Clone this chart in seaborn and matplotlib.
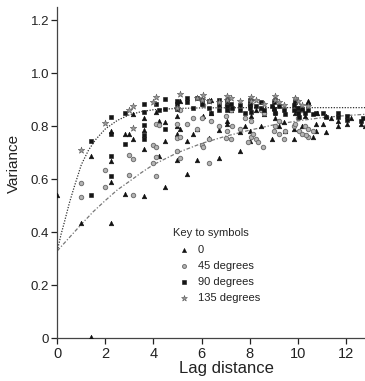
import matplotlib
matplotlib.use("Agg")
import matplotlib.pyplot as plt
import seaborn as sns
import pandas as pd

# ---- data ----
tri_x = [0.0, 1.0, 1.41, 1.41, 2.24, 2.24, 2.24, 2.24, 2.83, 2.83, 3.0, 3.16, 3.16, 3.61, 3.61, 3.61, 3.61,
         4.12, 4.24, 4.24, 4.47, 4.47, 4.47, 5.0, 5.0, 5.0, 5.0, 5.1, 5.39, 5.39, 5.66, 5.83, 5.83, 6.08,
         6.32, 6.4, 6.71, 6.71, 7.07, 7.07, 7.21, 7.62, 7.62, 7.81, 8.0, 8.0, 8.06, 8.25, 8.49, 8.6, 8.94,
         9.0, 9.06, 9.22, 9.43, 9.49, 9.85, 9.85, 9.9, 10.0, 10.2, 10.3, 10.44, 10.63, 10.77, 10.77, 10.82,
         11.05, 11.18, 11.18, 11.4, 11.66, 11.66, 12.04, 12.2, 12.65, 12.8,
         7.07, 8.06, 9.06, 9.9, 10.44, 6.4, 5.1]
tri_y = [0.54, 0.436, 0.686, 0.005, 0.436, 0.668, 0.589, 0.78, 0.771, 0.545, 0.771, 0.75, 0.845, 0.829, 0.784, 0.715, 0.537,
         0.853, 0.687, 0.82, 0.815, 0.746, 0.571, 0.84, 0.802, 0.77, 0.671, 0.79, 0.618, 0.745, 0.77, 0.671, 0.79, 0.84,
         0.755, 0.85, 0.784, 0.68, 0.82, 0.81, 0.86, 0.777, 0.705, 0.80, 0.78, 0.745, 0.84, 0.86, 0.80, 0.845, 0.75,
         0.87, 0.83, 0.80, 0.815, 0.78, 0.752, 0.79, 0.85, 0.87, 0.80, 0.84, 0.89, 0.76, 0.81, 0.78, 0.85,
         0.81, 0.777, 0.84, 0.83, 0.80, 0.82, 0.81, 0.83, 0.81, 0.80,
         0.905, 0.905, 0.91, 0.905, 0.895, 0.90, 0.895]

cir_x = [1.0, 1.0, 2.0, 2.0, 3.0, 3.16, 3.0, 3.16, 4.0, 4.12, 4.12, 4.0, 4.12, 4.12, 4.24, 5.0, 5.1, 5.0, 5.1,
         5.0, 5.39, 5.66, 5.83, 6.0, 6.08, 6.32, 6.32, 6.0, 6.4, 6.71, 7.0, 7.07, 7.21, 7.28, 7.0, 7.21, 7.62,
         7.81, 7.95, 8.06, 8.15, 8.25, 8.36, 8.54, 8.49, 8.6, 9.0, 9.06, 9.22, 9.22, 9.43, 9.49, 9.85, 9.9,
         10.0, 10.0, 10.05, 10.2, 10.3, 10.44, 10.44, 10.63, 10.0, 9.06, 8.06, 7.07, 6.08, 5.1, 9.9, 10.2, 8.0,
         10.33]
cir_y = [0.587, 0.533, 0.636, 0.57, 0.69, 0.675, 0.617, 0.539, 0.728, 0.72, 0.682, 0.662, 0.614, 0.81, 0.806, 0.705, 0.68, 0.755, 0.76,
         0.81, 0.81, 0.83, 0.79, 0.73, 0.72, 0.66, 0.75, 0.83, 0.82, 0.80, 0.757, 0.78, 0.75, 0.80, 0.84, 0.86, 0.79,
         0.83, 0.74, 0.76, 0.77, 0.75, 0.74, 0.72, 0.86, 0.85, 0.78, 0.80, 0.82, 0.77, 0.75, 0.78, 0.80, 0.81,
         0.85, 0.83, 0.78, 0.77, 0.80, 0.76, 0.79, 0.78, 0.87, 0.85, 0.82, 0.88, 0.88, 0.86, 0.89, 0.86, 0.88,
         0.765]

sq_x = [1.41, 1.41, 2.24, 2.24, 2.24, 2.24, 2.83, 2.83, 3.61, 3.61, 3.61, 3.61, 3.61, 4.12, 4.24, 4.47, 4.47, 4.47,
        5.0, 5.0, 5.0, 5.39, 5.39, 5.66, 5.83, 6.0, 6.0, 6.32, 6.32, 6.4, 6.71, 6.71, 6.71, 7.07, 7.07, 7.07, 7.21,
        7.28, 7.62, 7.62, 7.81, 8.0, 8.0, 8.0, 8.06, 8.25, 8.49, 8.49, 8.6, 8.94, 9.0, 9.0, 9.06, 9.22, 9.43, 9.49,
        9.85, 9.85, 9.9, 10.0, 10.0, 10.05, 10.2, 10.3, 10.44, 10.63, 10.77, 11.05, 11.18, 11.66, 11.66, 12.04, 12.04,
        12.65, 12.7]
sq_y = [0.745, 0.542, 0.836, 0.687, 0.614, 0.771, 0.849, 0.731, 0.884, 0.853, 0.765, 0.752, 0.805, 0.884, 0.86, 0.903, 0.865, 0.79,
        0.896, 0.884, 0.865, 0.907, 0.89, 0.87, 0.907, 0.90, 0.885, 0.895, 0.87, 0.85, 0.90, 0.88, 0.86, 0.895, 0.875, 0.86, 0.885,
        0.87, 0.88, 0.86, 0.85, 0.90, 0.885, 0.87, 0.855, 0.875, 0.89, 0.87, 0.86, 0.875, 0.89, 0.865, 0.85, 0.875, 0.86, 0.845,
        0.88, 0.86, 0.89, 0.87, 0.85, 0.835, 0.865, 0.85, 0.86, 0.845, 0.85, 0.85, 0.835, 0.85, 0.835, 0.84, 0.825,
        0.82, 0.83]

star_x = [1.0, 1.99, 3.0, 3.16, 3.16, 4.0, 4.12, 5.1, 5.0, 6.08, 6.0, 6.32, 7.07, 7.07, 7.21, 8.06, 8.06, 8.25,
          9.06, 9.06, 9.22, 9.9, 10.0, 10.2, 10.44, 5.83, 6.71, 7.62, 8.6, 9.43]
star_y = [0.71, 0.812, 0.862, 0.878, 0.792, 0.89, 0.909, 0.922, 0.87, 0.918, 0.90, 0.895, 0.915, 0.90, 0.905, 0.91, 0.895, 0.90,
          0.915, 0.90, 0.89, 0.905, 0.895, 0.88, 0.875, 0.905, 0.89, 0.895, 0.885, 0.88]

fast_x = [0, 0.15, 0.3, 0.5, 0.7, 1.0, 1.3, 1.6, 2.0, 2.5, 3.0, 3.5, 4.0, 5.0, 6.0, 8.0, 13.0]
fast_y = [0.33, 0.39, 0.44, 0.51, 0.57, 0.655, 0.71, 0.75, 0.79, 0.822, 0.843, 0.855, 0.862, 0.867, 0.869, 0.87, 0.87]
slow_x = [0, 0.4, 0.75, 1.0, 1.5, 2.0, 2.5, 3.0, 3.5, 4.0, 5.0, 6.0, 7.0, 8.0, 9.0, 10.0, 11.0, 12.0, 13.0]
slow_y = [0.33, 0.37, 0.405, 0.43, 0.478, 0.52, 0.56, 0.592, 0.625, 0.655, 0.70, 0.735, 0.762, 0.785, 0.805, 0.82, 0.832, 0.84, 0.846]

labels = ["0", "45 degrees", "90 degrees", "135 degrees"]
x_ticks = [0, 2, 4, 6, 8, 10, 12]
y_ticks = [0, 0.2, 0.4, 0.6, 0.8, 1.0, 1.2]
y_ticklabels = ["0", "0.2", "0.4", "0.6", "0.8", "1.0", "1.2"]

# ---- plot ----
sns.set_theme(style="ticks")
plt.rcParams["font.family"] = ["Liberation Sans", "DejaVu Sans"]

fig = plt.figure(figsize=(3.65, 3.81), dpi=100)
ax = fig.add_axes([0.157, 0.112, 0.843, 0.870])

sns.lineplot(x=fast_x, y=fast_y, ax=ax, color="#333333", lw=0.9, linestyle=(0, (1, 1.2)),
             sort=False, estimator=None)
sns.lineplot(x=slow_x, y=slow_y, ax=ax, color="#777777", lw=0.9, linestyle=(0, (3, 1.5, 1, 1.5)),
             sort=False, estimator=None)

sns.scatterplot(x=tri_x, y=tri_y, ax=ax, marker="^", s=11, color="#111111", edgecolor="#111111",
                linewidth=0.4, label=labels[0], zorder=3)
sns.scatterplot(x=cir_x, y=cir_y, ax=ax, marker="o", s=10, color="#b4b4b4", edgecolor="#707070",
                linewidth=0.7, label=labels[1], zorder=3)
sns.scatterplot(x=sq_x, y=sq_y, ax=ax, marker="s", s=10, color="#151515", edgecolor="#151515",
                linewidth=0.4, label=labels[2], zorder=3)
sns.scatterplot(x=star_x, y=star_y, ax=ax, marker="*", s=24, color="#9a9a9a", edgecolor="#555555",
                linewidth=0.4, label=labels[3], zorder=3)

ax.set_xlim(0, 12.8)
ax.set_ylim(0, 1.25)
ax.set_xticks(x_ticks)
ax.set_yticks(y_ticks)
ax.set_yticklabels(y_ticklabels)
ax.tick_params(axis="x", labelsize=10.5, length=4, width=0.9, colors="#222222", pad=2)
ax.tick_params(axis="y", labelsize=9.5, length=4, width=0.9, colors="#222222", pad=2)
for sp in ["top", "right"]:
    ax.spines[sp].set_visible(False)
for sp in ["left", "bottom"]:
    ax.spines[sp].set_color("#444444")
    ax.spines[sp].set_linewidth(0.9)

ax.set_xlabel("Lag distance", fontsize=12, color="#222222")
ax.set_ylabel("Variance", fontsize=11, color="#222222")
ax.xaxis.set_label_coords(0.55, -0.068)
ax.yaxis.set_label_coords(-0.118, 0.529)

leg = ax.legend(title="Key to symbols", frameon=False, loc="upper left",
                bbox_to_anchor=(0.36, 0.345), fontsize=8, title_fontsize=8,
                handletextpad=0.3, labelspacing=0.55, borderaxespad=0, markerscale=0.9)
leg._legend_box.align = "left"
for t in leg.get_texts():
    t.set_color("#222222")

fig.savefig("out.png", dpi=100)
